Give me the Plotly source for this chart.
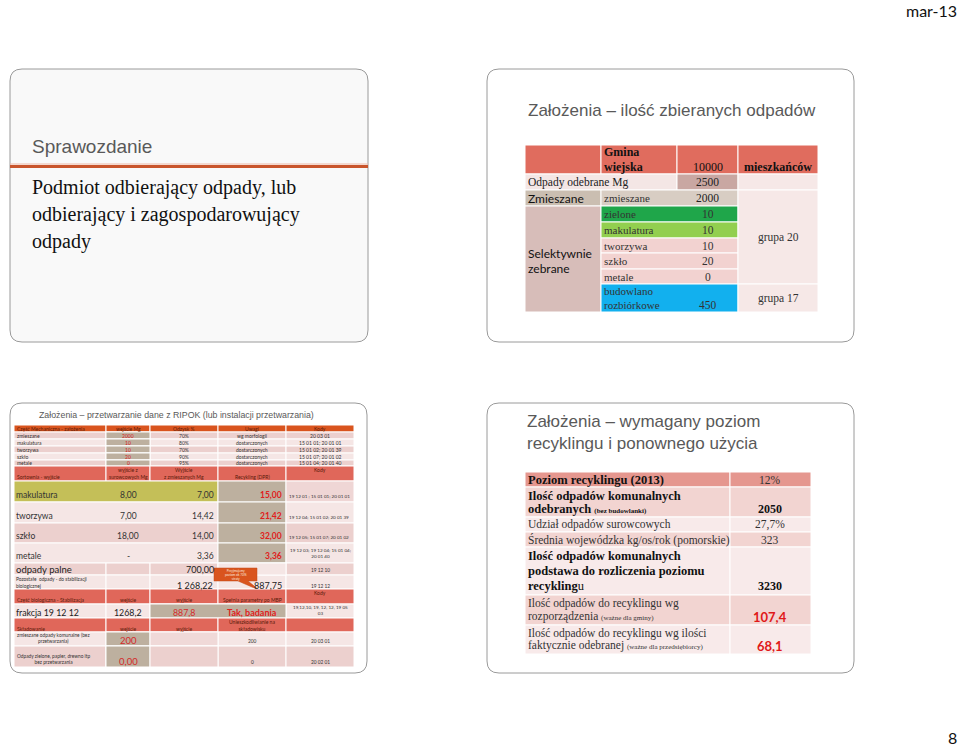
import plotly.graph_objects as go

# ---- data ----
page_date = "mar-13"
page_no = "8"

s1_title = "Sprawozdanie"
s1_body = ["Podmiot odbierający odpady, lub",
           "odbierający i zagospodarowujący",
           "odpady"]

# slide 2: ilość zbieranych odpadów
s2_title = "Założenia – ilość zbieranych odpadów"
s2_inhabitants = 10000
s2_total = 2500
s2_mixed = 2000
s2_sel_labels = ["zielone", "makulatura", "tworzywa", "szkło", "metale", "budowlano<br>rozbiórkowe"]
s2_sel_values = [10, 10, 10, 20, 0, 450]
s2_groups = ["grupa 20", "grupa 17"]

# slide 3: przetwarzanie RIPOK
s3_title = "Założenia – przetwarzanie dane z RIPOK (lub instalacji przetwarzania)"
mech_labels = ["zmieszane", "makulatura", "tworzywa", "szkło", "metale"]
mech_input = [2000, 10, 10, 20, 0]
mech_recovery = ["70%", "80%", "70%", "90%", "95%"]
mech_notes = ["wg morfologii", "dostarczonych", "dostarczonych", "dostarczonych", "dostarczonych"]
mech_codes = ["20 03 01", "15 01 01; 20 01 01", "15 01 02; 20 01 39", "15 01 07; 20 01 02", "15 01 04; 20 01 40"]

sort_labels = ["makulatura", "tworzywa", "szkło", "metale"]
sort_raw = ["8,00", "7,00", "18,00", "-"]
sort_mixed = ["7,00", "14,42", "14,00", "3,36"]
sort_dpr = ["15,00", "21,42", "32,00", "3,36"]
sort_codes = ["19 12 01 ; 15 01 01; 20 01 01", "19 12 04; 15 01 02; 20 01 39",
              "19 12 05; 15 01 07; 20 01 02", "19 12 03; 19 12 04; 15 01 04;<br>20 01 40"]
burn_value = "700,00"
burn_code = "19 12 10"
rest_value = "1 268,22"
rest_after = "887,75"
rest_code = "19 12 12"
bio_input = "1268,2"
bio_output = "887,8"
bio_ok = "Tak, badania"
bio_codes = "19,12,10, 19, 12, 12, 19 05<br>03"
land_labels = ["zmieszane odpady komunalne (bez<br>przetwarzania)", "Odpady zielone, papier, drewno itp<br>bez przetwarzania"]
land_input = ["200", "0,00"]
land_disposal = ["200", "0"]
land_codes = ["20 03 01", "20 02 01"]

# slide 4: wymagany poziom recyklingu
s4_title = ["Założenia – wymagany poziom", "recyklingu i ponownego użycia"]
rec_labels = [
    ["<b>Poziom recyklingu (2013)</b>"],
    ["<b>Ilość odpadów komunalnych</b>", "<b>odebranych</b> <span style='font-size:7px'><b>(bez budowlanki)</b></span>"],
    ["Udział odpadów surowcowych"],
    ["Średnia wojewódzka kg/os/rok (pomorskie)"],
    ["<b>Ilość odpadów komunalnych</b>", "<b>podstawa do rozliczenia poziomu</b>", "<b>recykling</b>u"],
    ["Ilość odpadów do recyklingu wg", "rozporządzenia <span style='font-size:7px'>(ważne dla gminy)</span>"],
    ["Ilość odpadów do recyklingu wg ilości", "faktycznie odebranej <span style='font-size:7px'>(ważne dla przedsiębiorcy)</span>"],
]
rec_values = ["12%", "2050", "27,7%", "323", "3230", "107,4", "68,1"]

SERIF = "Liberation Serif"
SANS = "Liberation Sans"
CAL = "Lato"

fig = go.Figure()
fig.add_trace(go.Scatter(x=[0, 960], y=[0, 748], mode="markers", marker=dict(opacity=0), hoverinfo="skip"))


def rrect(x0, y0, x1, y1, r, fill, line="#9a9a9a"):
    p = (f"M {x0+r},{y0} L {x1-r},{y0} Q {x1},{y0} {x1},{y0+r} L {x1},{y1-r} Q {x1},{y1} {x1-r},{y1} "
         f"L {x0+r},{y1} Q {x0},{y1} {x0},{y1-r} L {x0},{y0+r} Q {x0},{y0} {x0+r},{y0} Z")
    fig.add_shape(type="path", path=p, fillcolor=fill, line=dict(color=line, width=1), xref="x", yref="y")


def cell(x0, y0, x1, y1, color):
    fig.add_shape(type="rect", x0=x0, x1=x1, y0=y0, y1=y1, fillcolor=color,
                  line=dict(color="white", width=1), xref="x", yref="y")


def txt(x, y, s, size, color="#222", family=SERIF, xanchor="left"):
    fig.add_annotation(x=x, y=y, text=s, showarrow=False, xanchor=xanchor, yanchor="middle",
                       font=dict(size=size, color=color, family=family), xref="x", yref="y",
                       borderpad=0)


# page header / footer
txt(958, 10, page_date, 16, "#111", CAL, "right")
txt(958, 737, page_no, 16, "#111", CAL, "right")

# ---------- slide 1 ----------
rrect(10, 69, 368, 342, 12, "#f9f9f9")
fig.add_shape(type="line", x0=10, x1=368, y0=164, y1=164, line=dict(color="#eeb7a6", width=1), xref="x", yref="y")
fig.add_shape(type="line", x0=10, x1=368, y0=166.5, y1=166.5, line=dict(color="#c9552c", width=3), xref="x", yref="y")
txt(31, 146, s1_title, 19, "#595959", SANS)
for i, line in enumerate(s1_body):
    txt(31, 187 + 27 * i, line, 20, "#111", SERIF)

# ---------- slide 2 ----------
rrect(487, 69, 854, 342, 12, "white")
txt(672, 110, s2_title, 17, "#595959", SANS, "center")
c2 = [525, 601, 677, 738, 818]
mid3 = (c2[2] + c2[3]) / 2
for a, b in zip(c2[:-1], c2[1:]):
    cell(a, 145, b, 174, "#e06c5e")
txt(603, 152, "<b>Gmina</b>", 12, "#111")
txt(603, 167, "<b>wiejska</b>", 12, "#111")
txt(mid3, 167, f"{s2_inhabitants}", 12, "#111", SERIF, "center")
txt((c2[3] + c2[4]) / 2, 167, "<b>mieszkańców</b>", 12, "#111", SERIF, "center")

cell(c2[0], 174, c2[2], 190, "#f4e6e5")
cell(c2[2], 174, c2[3], 190, "#c9a7a2")
txt(527, 182, "Odpady odebrane Mg", 11.5, "#222")
txt(mid3, 182, f"{s2_total}", 11.5, "#222", SERIF, "center")

cell(c2[0], 190, c2[1], 206, "#cabeb1")
cell(c2[1], 190, c2[3], 206, "#d8cdc3")
txt(527, 198, "Zmieszane", 12, "#111", CAL)
txt(603, 198, "zmieszane", 11, "#333")
txt(mid3, 198, f"{s2_mixed}", 11.5, "#222", SERIF, "center")

cell(c2[0], 206, c2[1], 312, "#d7bdb9")
txt(527, 253, "Selektywnie", 12, "#111", CAL)
txt(527, 268, "zebrane", 12, "#111", CAL)
row_edges2 = [206, 222, 238, 253, 269, 284, 312]
row_cols2 = ["#1fa64a", "#92cf4f", "#f2d2d0", "#f2d2d0", "#f2d2d0", "#12b0ee"]
for i, (lab, val) in enumerate(zip(s2_sel_labels, s2_sel_values)):
    y0, y1 = row_edges2[i], row_edges2[i + 1]
    cell(c2[1], y0, c2[3], y1, row_cols2[i])
    parts = lab.split("<br>")
    if len(parts) == 1:
        txt(603, (y0 + y1) / 2, lab, 11, "#333")
        txt(mid3, (y0 + y1) / 2, f"{val}", 11.5, "#333", SERIF, "center")
    else:
        txt(603, y0 + 7, parts[0], 11, "#333")
        txt(603, y1 - 7, parts[1], 11, "#333")
        txt(mid3, y1 - 7, f"{val}", 11.5, "#333", SERIF, "center")

cell(c2[3], 174, c2[4], 190, "#f6e8e7")
cell(c2[3], 190, c2[4], 284, "#f6e8e7")
cell(c2[3], 284, c2[4], 312, "#f6e8e7")
txt((c2[3] + c2[4]) / 2, 237, s2_groups[0], 11.5, "#333", SERIF, "center")
txt((c2[3] + c2[4]) / 2, 298, s2_groups[1], 11.5, "#333", SERIF, "center")

# ---------- slide 3 ----------
rrect(10, 403, 367, 673, 12, "white")
txt(176, 415, s3_title, 8.8, "#595959", SANS, "center")
c3 = [14, 106, 150, 218, 286, 354]
cm = [(a + b) / 2 for a, b in zip(c3[:-1], c3[1:])]
HEAD = "#5a1a0a"
ORANGE = "#d9541e"
SALMON = "#e0675a"
PINK = "#ecd0ce"
LIGHT = "#f5e6e5"
TAN = "#bdb09f"
OLIVE = "#c4bf58"

# mechanical part header
for a, b in zip(c3[:-1], c3[1:]):
    cell(a, 425, b, 432, ORANGE)
txt(16, 428.5, "Część Mechaniczna - założenia", 5, HEAD, CAL)
for j, h in enumerate(["wejście Mg", "Odzysk %", "Uwagi", "Kody"]):
    txt(cm[j + 1], 428.5, h, 5, HEAD, CAL, "center")
mech_edges = [432, 439, 446, 453, 460, 466]
for i in range(len(mech_labels)):
    y0, y1 = mech_edges[i], mech_edges[i + 1]
    bg = PINK if i % 2 == 0 else LIGHT
    for a, b in zip(c3[:-1], c3[1:]):
        cell(a, y0, b, y1, bg)
    cell(c3[1], y0, c3[2], y1, TAN)
    ym = (y0 + y1) / 2
    txt(16, ym, mech_labels[i], 5, "#333", CAL)
    txt(cm[1], ym, f"{mech_input[i]}", 5, "#d42020", CAL, "center")
    txt(cm[2], ym, mech_recovery[i], 5, "#333", CAL, "center")
    txt(cm[3], ym, mech_notes[i], 5, "#333", CAL, "center")
    txt(cm[4], ym, mech_codes[i], 5, "#333", CAL, "center")

# sorting output header
for a, b in zip(c3[:-1], c3[1:]):
    cell(a, 466, b, 481, SALMON)
txt(16, 477, "Sortownia - wyjście", 5, HEAD, CAL)
txt(cm[1], 469.5, "wyjście z", 5, HEAD, CAL, "center")
txt(cm[1], 476.5, "surowcowych Mg", 5, HEAD, CAL, "center")
txt(cm[2], 469.5, "Wyjście", 5, HEAD, CAL, "center")
txt(cm[2], 476.5, "z zmieszanych Mg", 5, HEAD, CAL, "center")
txt(cm[3], 477, "Recykling (DPR)", 5, HEAD, CAL, "center")
txt(cm[4], 470, "Kody", 5, HEAD, CAL, "center")

sort_edges = [481, 502, 523, 543, 563]
sort_bg = [OLIVE, LIGHT, PINK, LIGHT]
sort_code_bg = ["#efd6d5", LIGHT, PINK, LIGHT]
for i in range(len(sort_labels)):
    y0, y1 = sort_edges[i], sort_edges[i + 1]
    cell(c3[0], y0, c3[3], y1, sort_bg[i])
    cell(c3[3], y0, c3[4], y1, TAN)
    cell(c3[4], y0, c3[5], y1, sort_code_bg[i])
    yt = y1 - 7
    txt(15, yt, sort_labels[i], 8.5, "#333", CAL)
    txt(cm[1], yt, sort_raw[i], 8.5, "#333", CAL, "center")
    txt(c3[3] - 3, yt, sort_mixed[i], 8.5, "#333", CAL, "right")
    txt(c3[4] - 3, yt, f"<b>{sort_dpr[i]}</b>", 8.5, "#e02020", CAL, "right")
    if "<br>" in sort_codes[i]:
        txt(cm[4], y1 - 10, sort_codes[i], 4.6, "#333", CAL, "center")
    else:
        txt(c3[4] + 2, y1 - 6, sort_codes[i], 4.6, "#333", CAL)

# odpady palne / pozostałe
for a, b in zip(c3[:-1], c3[1:]):
    cell(a, 563, b, 575, PINK)
    cell(a, 575, b, 589, LIGHT)
cell(c3[3], 563, c3[4], 575, LIGHT)
txt(15, 569, "odpady palne", 9.5, "#222", CAL)
txt(c3[3] - 3, 569, burn_value, 9, "#222", CAL, "right")
txt(cm[4], 570, burn_code, 4.8, "#333", CAL, "center")
txt(15, 579, "Pozostałe  odpady - do stabilizacji", 4.8, "#333", CAL)
txt(15, 586, "biologicznej", 4.8, "#333", CAL)
txt(c3[3] - 4, 585, rest_value, 9, "#222", CAL, "right")
txt(c3[4] - 3, 585, rest_after, 9, "#222", CAL, "right")
txt(cm[4], 586, rest_code, 4.8, "#333", CAL, "center")
# callout
fig.add_shape(type="path", path="M 214,568 L 257,568 L 257,581 L 248,581 L 259,590 L 238,581 L 214,581 Z",
              fillcolor=ORANGE, line=dict(color="#c04a18", width=0.5), xref="x", yref="y")
txt(235.5, 574.5, "Przyjmujemy<br>poziom ok 70%<br>straty", 3.2, "#fbe6df", CAL, "center")

# biological part
for a, b in zip(c3[:-1], c3[1:]):
    cell(a, 589, b, 604, SALMON)
txt(16, 600, "Część biologiczna - Stabilizacja", 5, HEAD, CAL)
txt(cm[1], 600, "wejście", 5, HEAD, CAL, "center")
txt(cm[2], 600, "wyjście", 5, HEAD, CAL, "center")
txt(cm[3], 600, "Spełnia parametry po MBP", 5, HEAD, CAL, "center")
txt(cm[4], 593, "Kody", 5, HEAD, CAL, "center")
for a, b in zip(c3[:-1], c3[1:]):
    cell(a, 604, b, 618, LIGHT)
cell(c3[2], 604, c3[4], 618, TAN)
txt(15, 612, "frakcja 19 12 12", 8.8, "#222", CAL)
txt(cm[1], 612, bio_input, 8.8, "#222", CAL, "center")
txt(cm[2], 612, bio_output, 8.8, "#d42a2a", CAL, "center")
txt(cm[3], 612, f"<b>{bio_ok}</b>", 9, "#e02020", CAL, "center")
txt(cm[4], 610, bio_codes, 4.6, "#333", CAL, "center")

# landfill
for a, b in zip(c3[:-1], c3[1:]):
    cell(a, 618, b, 632, SALMON)
txt(16, 629, "Składowanie", 5, HEAD, CAL)
txt(cm[1], 629, "wejście", 5, HEAD, CAL, "center")
txt(cm[2], 629, "wyjście", 5, HEAD, CAL, "center")
txt(cm[3], 625, "Unieszkodliwianie na<br>składowisku", 5, HEAD, CAL, "center")
land_edges = [632, 646, 667]
land_bg = [LIGHT, PINK]
for i in range(len(land_labels)):
    y0, y1 = land_edges[i], land_edges[i + 1]
    for a, b in zip(c3[:-1], c3[1:]):
        cell(a, y0, b, y1, land_bg[i])
    cell(c3[1], y0, c3[2], y1, TAN)
    cell(c3[2], y0, c3[3], y1, "#f0d9d8" if i == 0 else PINK)
    txt(16, y1 - 8, land_labels[i], 4.8, "#333", CAL)
    txt(cm[1], y1 - 6, land_input[i], 9.5, "#d42a2a", CAL, "center")
    txt(cm[3], y1 - 5, land_disposal[i], 4.8, "#333", CAL, "center")
    txt(cm[4], y1 - 5, land_codes[i], 4.8, "#333", CAL, "center")

# ---------- slide 4 ----------
rrect(487, 403, 854, 673, 12, "white")
txt(526, 421, s4_title[0], 17, "#595959", SANS)
txt(526, 443, s4_title[1], 17, "#595959", SANS)
rec_edges = [472, 487, 517, 532, 547, 595, 625, 654]
rec_bg = ["#e5978f", "#f2d4d1", "#f8eaea", "#f2d4d1", "#f8eaea", "#f2d4d1", "#f8eaea"]
for i, lines in enumerate(rec_labels):
    y0, y1 = rec_edges[i], rec_edges[i + 1]
    cell(525, y0, 730, y1, rec_bg[i])
    cell(730, y0, 811, y1, rec_bg[i])
    n = len(lines)
    if n == 1:
        ys = [(y0 + y1) / 2]
    else:
        step = (y1 - y0 - 4) / n
        ys = [y0 + 2 + step * (k + 0.5) for k in range(n)]
    for line, y in zip(lines, ys):
        bold = line.startswith("<b>")
        txt(527, y, line, 12.5 if bold else 11.5, "#111" if bold else "#333", SERIF)
    val = rec_values[i]
    if i in (5, 6):
        txt(770, ys[-1], f"<b>{val}</b>", 13, "#e01818", CAL, "center")
    elif i in (1, 4):
        txt(770, ys[-1], f"<b>{val}</b>", 12, "#111", SERIF, "center")
    else:
        txt(770, ys[-1], val, 11.5, "#333", SERIF, "center")

fig.update_layout(
    width=960, height=748,
    margin=dict(l=0, r=0, t=0, b=0),
    paper_bgcolor="white", plot_bgcolor="white",
    showlegend=False,
    xaxis=dict(range=[0, 960], visible=False, fixedrange=True),
    yaxis=dict(range=[748, 0], visible=False, fixedrange=True),
)

# drop the default page margin so the figure sits at the window's corner
fig.write_html("out.html", config={"displayModeBar": False},
               post_script="document.body.style.margin='0';document.body.style.overflow='hidden';")
